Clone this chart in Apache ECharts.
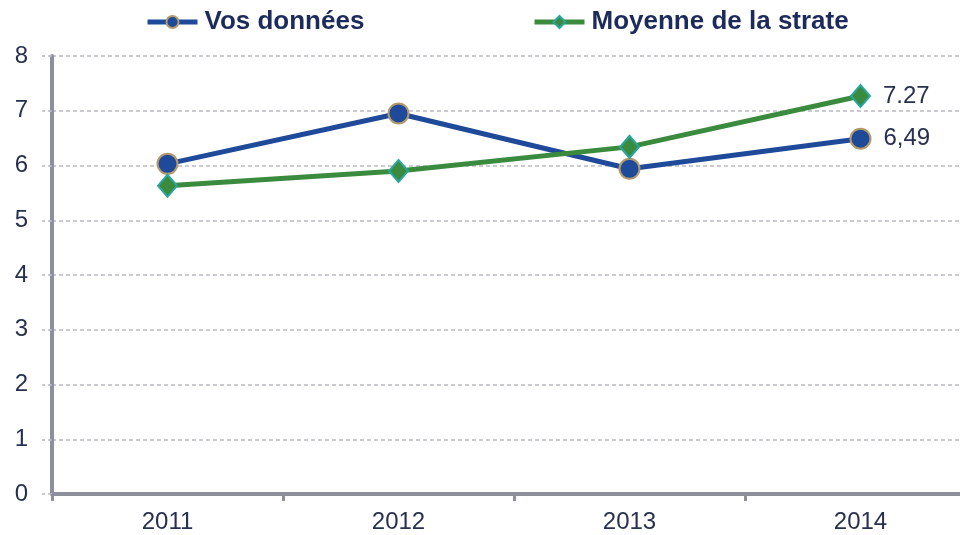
<!DOCTYPE html>
<html>
<head>
<meta charset="utf-8">
<script src="https://cdn.jsdelivr.net/npm/echarts@6/dist/echarts.min.js"></script>
<style>
  html, body { margin: 0; padding: 0; background: #ffffff; }
  #chart { width: 960px; height: 535px; }
</style>
</head>
<body>
<div id="chart"></div>
<script>
// Years along the x axis
const years = ['2011', '2012', '2013', '2014'];
// Commune values
const vosDonnees = [6.03, 6.95, 5.94, 6.49];
// Average of the comparison group
const moyenneStrate = [5.63, 5.90, 6.34, 7.27];
// Text shown next to the last point of each line
const lastLabels = { vos: '6,49', moy: '7.27' };
const yTicks = { min: 0, max: 8, step: 1 };

const FONT = '"Liberation Sans", Arial, sans-serif';
const TEXT = '#27304f';
const AXIS = '#8d8f9c';

function withEndLabel(values, text) {
  return values.map((v, i) => i === values.length - 1
    ? { value: v, label: { show: true, formatter: text } }
    : v);
}

const chart = echarts.init(document.getElementById('chart'), null, { renderer: 'canvas' });

const legendBase = {
  top: 4,
  itemWidth: 50, itemHeight: 15,
  lineStyle: { width: 5 },
  textStyle: { fontFamily: FONT, fontSize: 26, fontWeight: 'bold', color: '#1d2b5c', padding: [0, 0, 0, 2] }
};

chart.setOption({
  animation: false,
  backgroundColor: '#ffffff',
  legend: [
    Object.assign({ left: 140, data: ['Vos données'] }, legendBase),
    Object.assign({ left: 527, data: ['Moyenne de la strate'] }, legendBase)
  ],
  grid: { left: 52, top: 56, width: 924, height: 438, containLabel: false, outerBoundsMode: 'none' },
  xAxis: {
    type: 'category',
    data: years,
    boundaryGap: true,
    axisLine: { lineStyle: { color: AXIS, width: 4 } },
    axisTick: { show: true, length: 7, lineStyle: { color: AXIS, width: 3 } },
    axisLabel: { fontFamily: FONT, fontSize: 24, color: TEXT, margin: 16 },
    splitLine: { show: false }
  },
  yAxis: {
    type: 'value',
    min: yTicks.min, max: yTicks.max, interval: yTicks.step,
    axisLine: { show: true, lineStyle: { color: AXIS, width: 4 } },
    axisTick: { show: true, inside: false, length: 10, lineStyle: { color: '#b9bac4', width: 1.5, type: [4, 3] } },
    axisLabel: { fontFamily: FONT, fontSize: 24, color: TEXT, margin: 24 },
    splitLine: { show: true, lineStyle: { color: '#b9bac4', width: 1.5, type: [4, 3] } }
  },
  series: [
    {
      name: 'Vos données',
      type: 'line',
      data: withEndLabel(vosDonnees, lastLabels.vos),
      symbol: 'circle',
      symbolSize: 20,
      lineStyle: { color: '#1f4a9a', width: 5 },
      itemStyle: { color: '#1f4a9a', borderColor: '#b39a6c', borderWidth: 2 },
      label: { show: false, position: 'right', distance: 12, fontFamily: FONT, fontSize: 24, color: TEXT },
      z: 3
    },
    {
      name: 'Moyenne de la strate',
      type: 'line',
      data: withEndLabel(moyenneStrate, lastLabels.moy),
      symbol: 'diamond',
      symbolSize: [19, 22],
      lineStyle: { color: '#3b8b3f', width: 5 },
      itemStyle: { color: '#3b8b3f', borderColor: '#2aa6a0', borderWidth: 2 },
      label: { show: false, position: 'right', distance: 12, fontFamily: FONT, fontSize: 24, color: TEXT },
      z: 4
    }
  ]
});
</script>
</body>
</html>
